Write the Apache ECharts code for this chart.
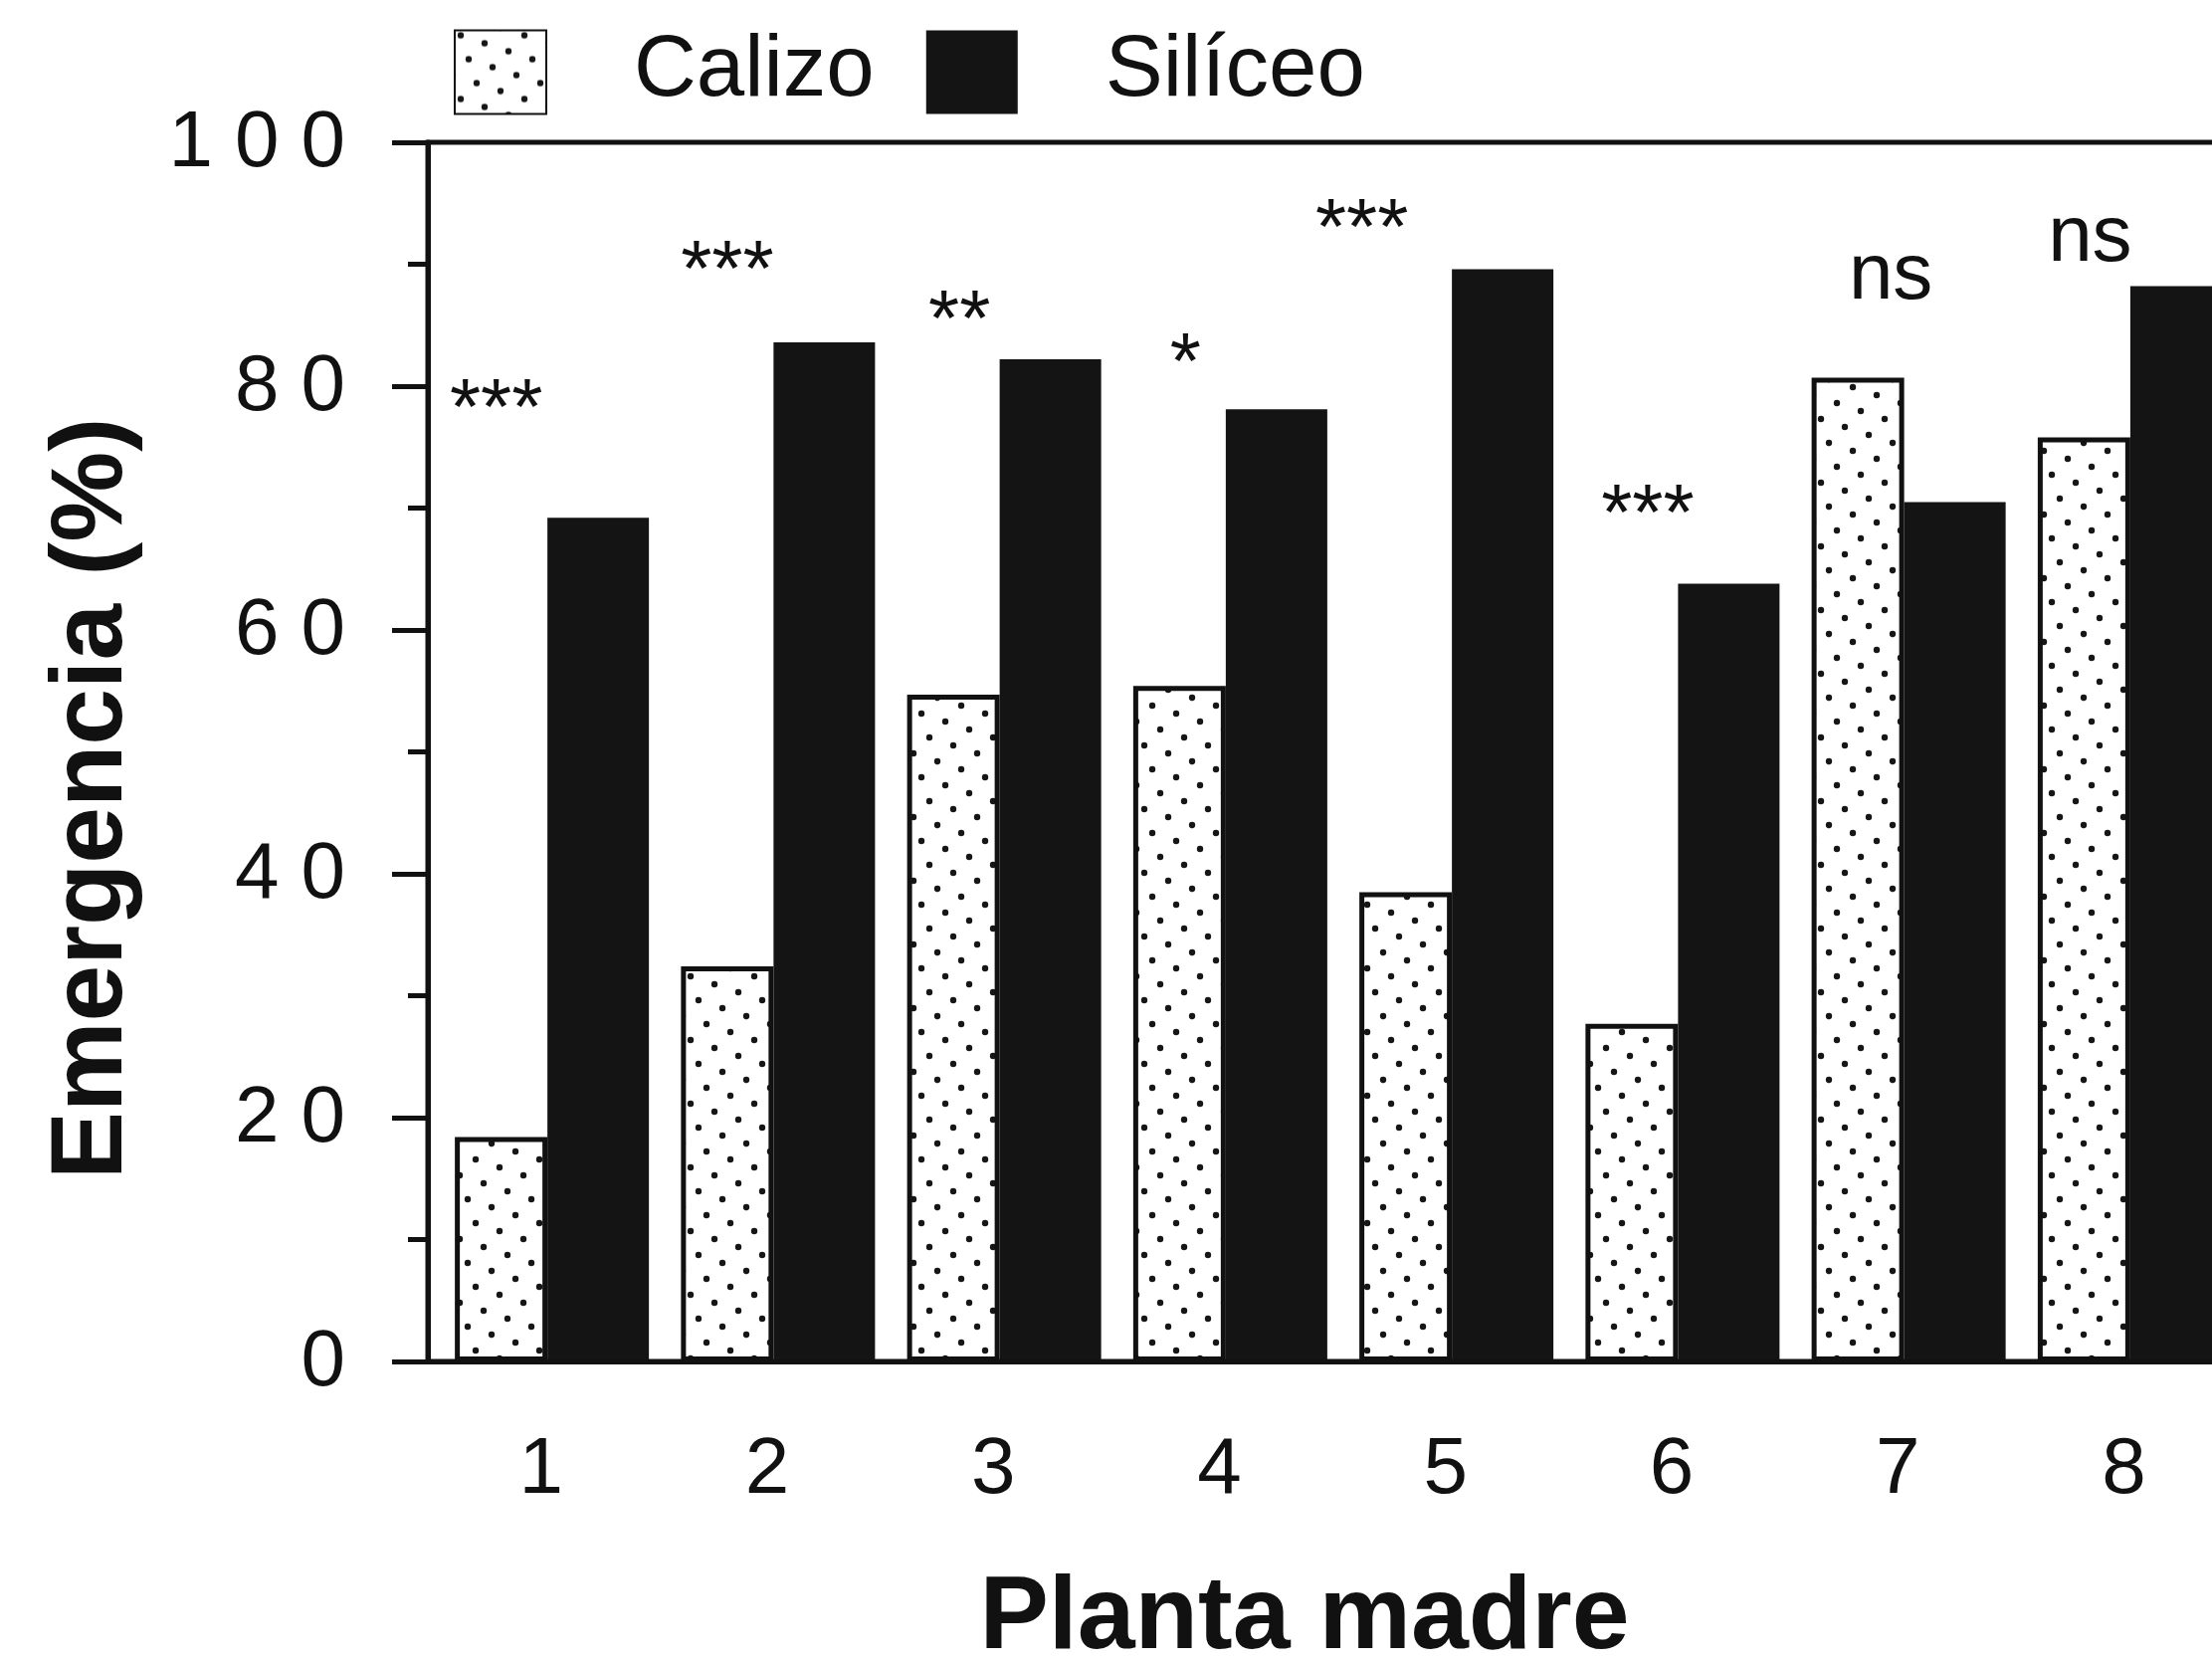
<!DOCTYPE html>
<html>
<head>
<meta charset="utf-8">
<script src="https://cdn.jsdelivr.net/npm/echarts@6/dist/echarts.min.js"></script>
<style>
  html, body { margin: 0; padding: 0; background: #ffffff; }
  #chart { width: 2223px; height: 1672px; }
</style>
</head>
<body>
<div id="chart"></div>
<script>
// Emergencia por planta madre en suelo calizo y silíceo
const plantas = ['1', '2', '3', '4', '5', '6', '7', '8'];
const calizo = [18.4, 32.4, 54.7, 55.4, 38.5, 27.7, 80.7, 75.8];
const siliceo = [69.2, 83.6, 82.2, 78.1, 89.6, 63.8, 70.5, 88.2];
const signif = ['***', '***', '**', '*', '***', '***', 'ns', 'ns'];
const signifY = [79.5, 90.9, 86.8, 83.3, 94.3, 70.9, 89.1, 92.2];

// horizontal nudge (px) of each significance mark from its category tick
const signifShiftX = [-45, -40, -34, -34, -84, -24, -7, -34];

const FONT = "'Liberation Sans', Arial, Helvetica, sans-serif";
const INK = '#111111';
const LINE_W = 5;

// stippled fill for the Calizo bars
function stipple() {
  const size = 64;
  const c = document.createElement('canvas');
  c.width = size; c.height = size;
  const g = c.getContext('2d');
  g.fillStyle = '#ffffff';
  g.fillRect(0, 0, size, size);
  g.fillStyle = '#161616';
  const pts = new Set();
  for (let a = -12; a <= 12; a++) {
    for (let b = -12; b <= 12; b++) {
      const x = (((-24 * a + 16 * b) % size) + size) % size;
      const y = (((-8 * a - 16 * b) % size) + size) % size;
      pts.add(x + ',' + y);
    }
  }
  pts.forEach(function (p) {
    const xy = p.split(',').map(Number);
    for (let dx = -size; dx <= size; dx += size) {
      for (let dy = -size; dy <= size; dy += size) {
        g.beginPath();
        g.arc(xy[0] + 6 + dx, xy[1] + 5 + dy, 3.2, 0, Math.PI * 2);
        g.fill();
      }
    }
  });
  return c;
}

function spaced(v) {
  return String(v).split('').map(function (ch, i) {
    return i ? '{s|' + ch + '}' : '{f|' + ch + '}';
  }).join('');
}

const chart = echarts.init(document.getElementById('chart'), null, { renderer: 'canvas' });

const option = {
  animation: false,
  backgroundColor: '#ffffff',
  textStyle: { fontFamily: FONT, color: INK },
  legend: {
    data: ['Calizo', 'Silíceo'],
    left: 451,
    top: 24,
    icon: 'rect',
    itemWidth: 92,
    itemHeight: 84,
    itemGap: 52,
    textStyle: { fontFamily: FONT, fontSize: 87, color: INK, padding: [0, 0, 0, 83] }
  },
  grid: [
    {
      left: 430, right: -25, top: 143, bottom: 304,
      outerBoundsMode: 'none', containLabel: false,
      show: true, borderColor: INK, borderWidth: LINE_W, backgroundColor: 'transparent'
    },
    { left: 441, right: -36, top: 143, bottom: 304, outerBoundsMode: 'none', containLabel: false }
  ],
  xAxis: [
    {
      gridIndex: 0,
      type: 'category',
      data: plantas,
      z: 5,
      axisLine: { lineStyle: { color: INK, width: LINE_W } },
      axisTick: { alignWithLabel: true, length: 20, lineStyle: { color: INK, width: LINE_W } },
      axisLabel: { fontFamily: FONT, fontSize: 80, color: INK, margin: 70 },
      name: 'Planta madre',
      nameLocation: 'middle',
      nameGap: 207,
      nameTextStyle: { fontFamily: FONT, fontSize: 104, fontWeight: 'bold', color: INK, padding: [0, 56, 0, 0] }
    },
    { gridIndex: 1, type: 'category', data: plantas, show: false }
  ],
  yAxis: [
    {
      gridIndex: 0,
      type: 'value',
      min: 0,
      max: 100,
      interval: 20,
      z: 5,
      splitLine: { show: false },
      axisLine: { show: true, lineStyle: { color: INK, width: LINE_W } },
      axisTick: { show: true, length: 36, lineStyle: { color: INK, width: LINE_W } },
      minorTick: { show: true, splitNumber: 2, length: 20, lineStyle: { color: INK, width: LINE_W } },
      axisLabel: {
        margin: 83,
        fontFamily: FONT,
        fontSize: 80,
        color: INK,
        formatter: spaced,
        rich: {
          f: { fontFamily: FONT, fontSize: 80, color: INK, padding: [4, 0, 0, 0] },
          s: { fontFamily: FONT, fontSize: 80, color: INK, padding: [4, 0, 0, 22] }
        }
      },
      name: 'Emergencia (%)',
      nameLocation: 'middle',
      nameGap: 285,
      nameTextStyle: { fontFamily: FONT, fontSize: 102, fontWeight: 'bold', color: INK, padding: [0, 94, 0, 0] }
    },
    { gridIndex: 1, type: 'value', min: 0, max: 100, show: false }
  ],
  series: [
    {
      name: 'Calizo',
      type: 'bar',
      xAxisIndex: 1,
      yAxisIndex: 1,
      data: calizo,
      barWidth: 93,
      barGap: '0%',
      itemStyle: { color: { image: stipple(), repeat: 'repeat' }, borderColor: INK, borderWidth: LINE_W }
    },
    {
      name: 'Silíceo',
      type: 'bar',
      xAxisIndex: 1,
      yAxisIndex: 1,
      data: siliceo,
      barWidth: 102,
      barGap: '0%',
      itemStyle: { color: '#141414' }
    },
    {
      name: 'significancia',
      type: 'scatter',
      xAxisIndex: 0,
      yAxisIndex: 0,
      symbol: 'circle',
      symbolSize: 1,
      itemStyle: { color: 'rgba(0,0,0,0)', opacity: 1 },
      z: 6,
      data: signifY.map(function (v, i) {
        return {
          value: [i, v],
          label: { offset: [signifShiftX[i], signif[i] === 'ns' ? 1 : 20] }
        };
      }),
      label: {
        show: true,
        position: 'inside',
        fontFamily: FONT,
        fontSize: 80,
        color: INK,
        formatter: function (p) { return signif[p.dataIndex]; }
      }
    }
  ]
};

chart.setOption(option);
</script>
</body>
</html>
